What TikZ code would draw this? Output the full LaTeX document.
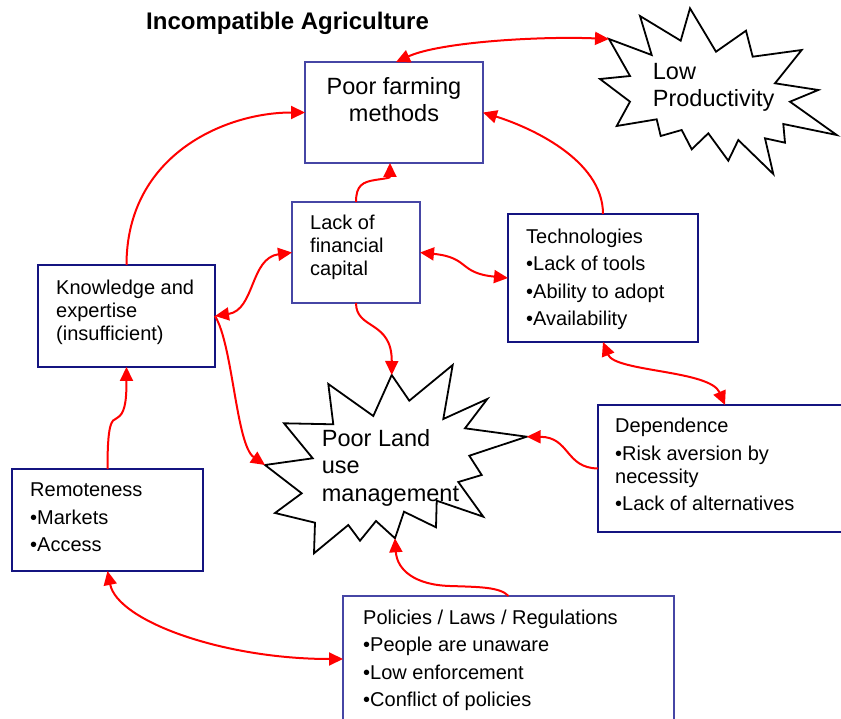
\documentclass[tikz,border=0pt]{standalone}
\usepackage{fontspec}
\setmainfont{Liberation Sans}
\usetikzlibrary{arrows.meta}
\definecolor{navy}{RGB}{20,20,128}
\definecolor{slate}{RGB}{70,70,165}
\definecolor{arrowred}{RGB}{255,0,0}

\begin{document}
\begin{tikzpicture}[x=1pt,y=-1pt,
  box/.style={draw=navy, line width=2pt, fill=white, inner sep=0pt, outer sep=0pt, anchor=north west},
  body/.style={anchor=north west, inner sep=0pt, align=left, font=\fontsize{20}{23}\selectfont},
  big/.style={inner sep=0pt, font=\fontsize{23.5}{27.5}\selectfont},
  link/.style={draw=arrowred, line width=2pt, -{Triangle[length=14pt,width=13pt]}},
  twoway/.style={draw=arrowred, line width=2pt, {Triangle[length=14pt,width=13pt]}-{Triangle[length=14pt,width=13pt]}},
  burst/.style={draw=black, line width=1.8pt, fill=white, line join=miter}
]
\useasboundingbox (0,0) rectangle (841,719);

% title
\node[anchor=base west, inner sep=0pt, font=\fontsize{24}{28}\selectfont\bfseries] (title) at (146,29.3) {Incompatible Agriculture};

% starbursts
\draw[burst] (609,39) -- (651.7,55) -- (640,16) -- (680.7,40.7) -- (690,8.3) -- (716,51.7)
  -- (746,30.7) -- (752.7,56.7) -- (801.7,50) -- (775,83.3) -- (818.3,90) -- (790,101.7)
  -- (836.7,135) -- (783.3,124) -- (785,142.7) -- (765,138.3) -- (773.3,174) -- (738.3,140)
  -- (728.3,160.7) -- (708.3,133.3) -- (691.7,149.3) -- (681.7,130) -- (660.7,136)
  -- (656.7,119.3) -- (616.7,126) -- (630,101.7) -- (600,79) -- (630,76) -- cycle;
\coordinate (lp-w) at (609,39);

\draw[burst] (391.7,375) -- (409.3,400.7) -- (452.7,365) -- (443.3,419) -- (487.3,399)
  -- (465,428.3) -- (526.7,436.7) -- (469.3,455.7) -- (481.7,475) -- (458.3,482)
  -- (483.3,516.7) -- (436.7,500.7) -- (436,527.3) -- (404,511.7) -- (395,538.3)
  -- (376,521) -- (360,540.7) -- (348.3,525) -- (314,553.3) -- (315,522.7) -- (275,513)
  -- (301.7,493.3) -- (265,465) -- (312.7,458.3) -- (284,423.3) -- (333.3,424.3)
  -- (328.3,384) -- (373.3,416) -- cycle;
\coordinate (pl-n) at (391.7,375);
\coordinate (pl-w) at (265,465);
\coordinate (pl-e) at (526.7,436.7);
\coordinate (pl-s) at (395,538.3);

% boxes
\node[box, draw=slate, minimum width=178pt, minimum height=101pt] (pfm) at (305,62) {};
\node[box, draw=slate, minimum width=128pt, minimum height=101pt] (cap) at (292,202) {};
\node[box, minimum width=190pt, minimum height=128pt] (tech) at (508,214) {};
\node[box, minimum width=177pt, minimum height=102pt] (know) at (38,265) {};
\node[box, minimum width=191pt, minimum height=102pt] (remote) at (12,469) {};
\node[box, minimum width=248pt, minimum height=127pt] (dep) at (598,405) {};
\node[box, draw=slate, minimum width=331pt, minimum height=126pt] (pol) at (343,596) {};

% texts
\node[big, anchor=north, align=center] (pfm-t) at (394,75) {\rule{0pt}{19pt}Poor farming\\methods};
\node[big, anchor=north west, align=left] (lp-t) at (652.7,60) {\rule{0pt}{19pt}Low\\Productivity};
\node[big, anchor=north west, align=left] (pl-t) at (321.7,427) {\rule{0pt}{19pt}Poor Land\\use\\management};
\node[body] (cap-t) at (310,213) {\rule{0pt}{16pt}Lack of\\financial\\capital};
\node[body] (tech-t) at (526,227) {\rule{0pt}{16pt}Technologies\\[4.5pt]•Lack of tools\\[4.5pt]•Ability to adopt\\[4.5pt]•Availability};
\node[body] (know-t) at (56,278) {\rule{0pt}{16pt}Knowledge and\\expertise\\(insufficient)};
\node[body] (remote-t) at (30,480.7) {\rule{0pt}{16pt}Remoteness\\[4.5pt]•Markets\\[4.5pt]•Access};
\node[body] (dep-t) at (615,416.3) {\rule{0pt}{16pt}Dependence\\[4.5pt]•Risk aversion by\\necessity\\[4.5pt]•Lack of alternatives};
\node[body] (pol-t) at (363,608) {\rule{0pt}{16pt}Policies / Laws / Regulations\\[4.5pt]•People are unaware\\[4.5pt]•Low enforcement\\[4.5pt]•Conflict of policies};

% connectors
\draw[twoway] ([xshift=2pt]pfm.north) .. controls (440,42) and (540,36) .. (lp-w);
\draw[link] (know.north) .. controls +(0,-110) and +(-80,0) .. (pfm.west);
\draw[link] (tech.north) .. controls +(0,-55) and +(45,14) .. (pfm.east);
\draw[link] (cap.north) .. controls +(0,-17) and +(-12,2) .. (375,180) .. controls +(13,-2) and +(0,15) .. ([xshift=-4pt]pfm.south);
\draw[twoway] (cap.west) .. controls (250,258) and (255,310) .. (know.east);
\draw[twoway] (cap.east) .. controls (470,257.5) and (458,273) .. (tech.west);
\draw[link] (cap.south) .. controls (356,330) and (392,320) .. (pl-n);
\draw[link] (know.east) .. controls (233,345) and (236,445) .. (pl-w);
\draw[twoway] (tech.south) .. controls (615,372) and (710,370) .. ([xshift=3pt]dep.north);
\draw[link] (dep.west) .. controls (565,468) and (570,437) .. (pl-e);
\draw[link] (remote.north) .. controls (107.5,425) and (111,420) .. (117,418) .. controls (124,414) and (126.5,405) .. (know.south);
\draw[twoway] (remote.south) .. controls (117.5,621) and (223,659) .. (pol.west);
\draw[link] (pol.north) .. controls (500,587) and (480,587) .. (450,586) .. controls (415,585) and (397,570) .. (pl-s);
\end{tikzpicture}
\end{document}
